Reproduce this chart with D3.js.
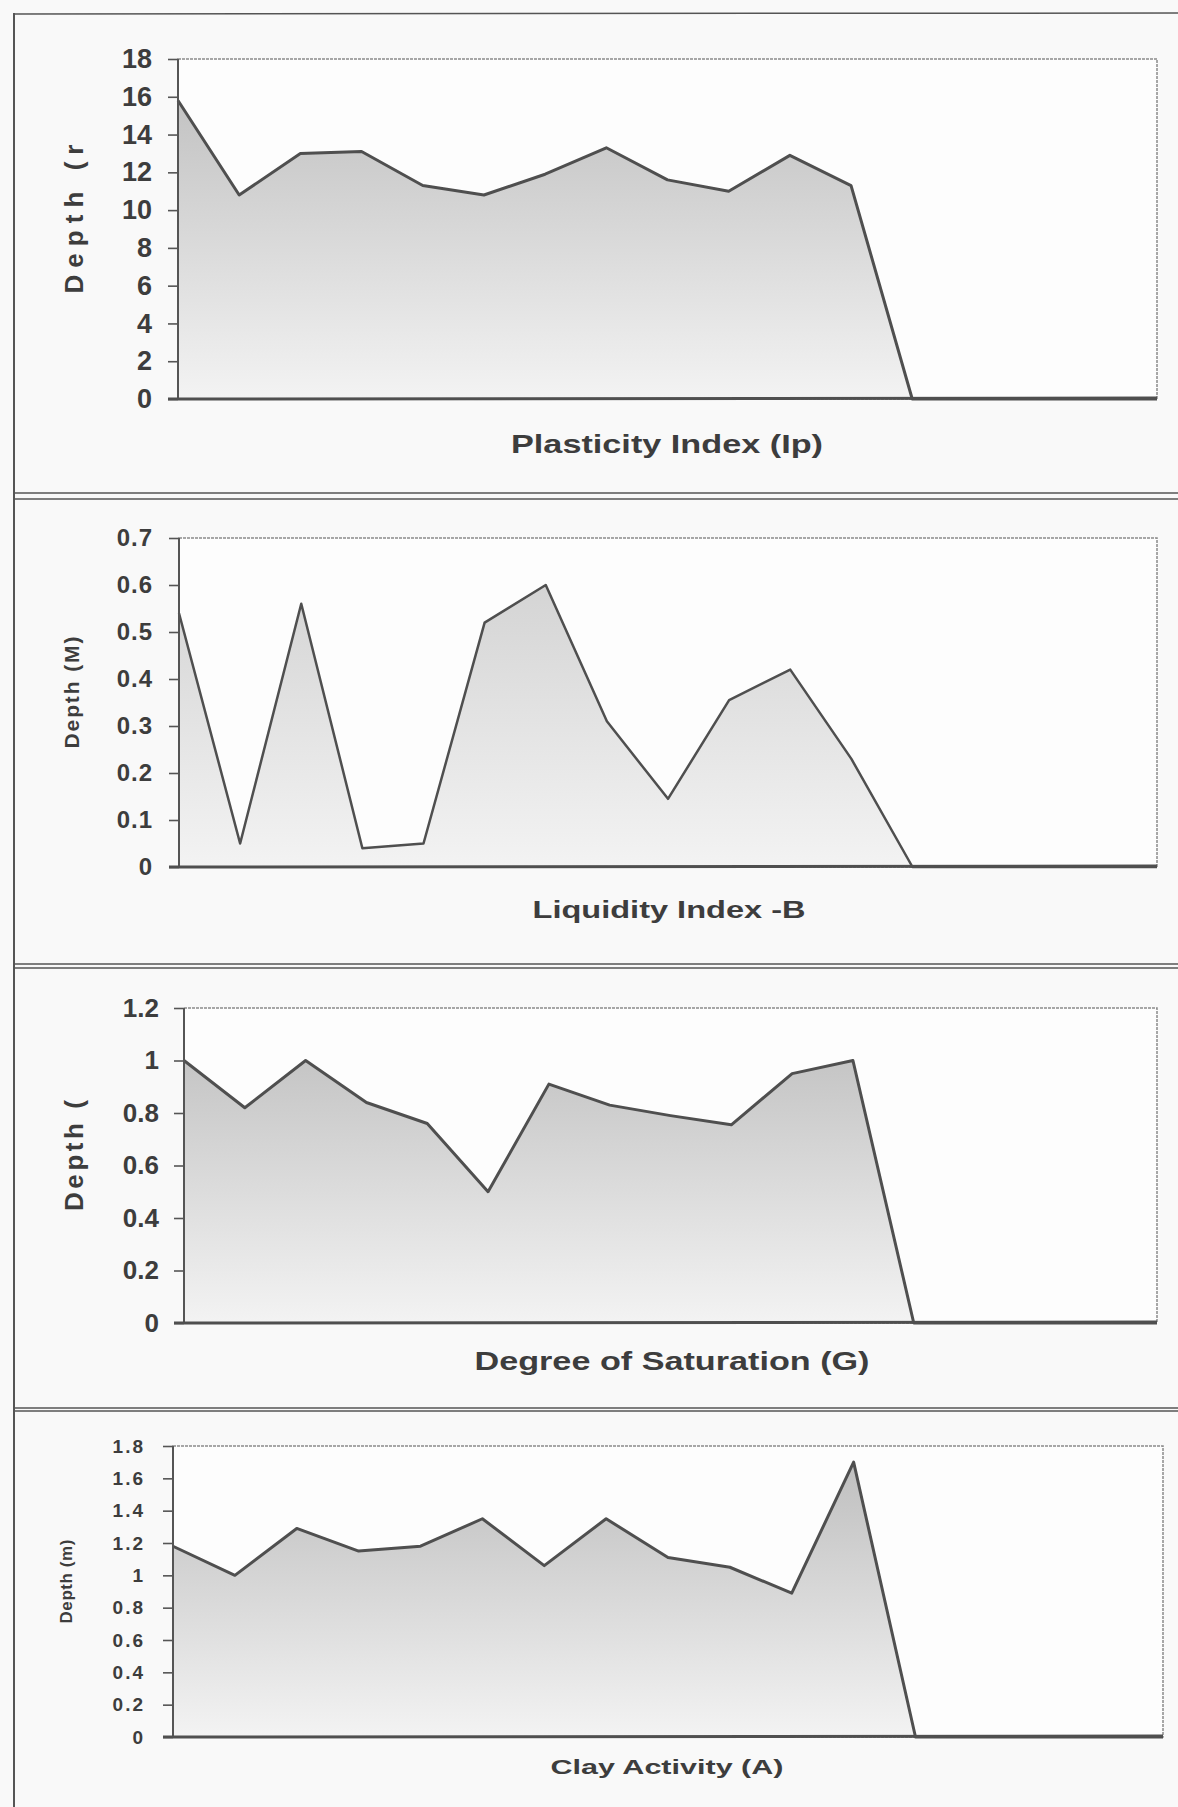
<!DOCTYPE html>
<html>
<head>
<meta charset="utf-8">
<script src="https://cdn.jsdelivr.net/npm/d3@7"></script>
<style>
  body { margin: 0; background: #fafafa; }
  svg { display: block; }
</style>
</head>
<body>
<div id="chart"></div>
<script>
// sample positions along the profile (17 categories, last ones empty)
const samples = [1, 2, 3, 4, 5, 6, 7, 8, 9, 10, 11, 12, 13, 14, 15, 16, 17];

// values
const plasticityIp = [15.8, 10.8, 13.0, 13.1, 11.3, 10.8, 11.9, 13.3, 11.6, 11.0, 12.9, 11.3, 0, 0, 0, 0, 0];
const liquidityB = [0.54, 0.05, 0.56, 0.04, 0.05, 0.52, 0.60, 0.31, 0.145, 0.355, 0.42, 0.23, 0, 0, 0, 0, 0];
const saturationG = [1.0, 0.82, 1.0, 0.84, 0.76, 0.50, 0.91, 0.83, 0.79, 0.755, 0.95, 1.0, 0, 0, 0, 0, 0];
const clayActivity = [1.18, 1.0, 1.29, 1.15, 1.18, 1.35, 1.06, 1.35, 1.11, 1.05, 0.89, 1.70, 0, 0, 0, 0, 0];

// tick labels
const ticksIp = [0, 2, 4, 6, 8, 10, 12, 14, 16, 18];
const ticksB = [0, 0.1, 0.2, 0.3, 0.4, 0.5, 0.6, 0.7];
const ticksG = [0, 0.2, 0.4, 0.6, 0.8, 1, 1.2];
const ticksA = [0, 0.2, 0.4, 0.6, 0.8, 1, 1.2, 1.4, 1.6, 1.8];

const width = 1178,
      height = 1807;

// one entry per stacked chart (layout only, data comes from the arrays above)
const panels = [
  { values: plasticityIp, ticks: ticksIp, max: 18,
    left: 178, right: 1157, top: 59, bottom: 399,
    tickFont: 27, tickWeight: "bold", tickSpacing: 0, tickPad: 16,
    yLabel: "Depth (r", yLabelX: 74, yLabelLen: 149, yLabelFont: 26,
    xLabel: "Plasticity Index (Ip)", xLabelY: 453, xLabelLen: 312, xLabelFont: 25, xLabelX: 667,
    stroke: 3 },
  { values: liquidityB, ticks: ticksB, max: 0.7,
    left: 179, right: 1157, top: 538, bottom: 867,
    tickFont: 24, tickWeight: "bold", tickSpacing: 1, tickPad: 16,
    yLabel: "Depth (M)", yLabelX: 72, yLabelLen: 112, yLabelFont: 21,
    xLabel: "Liquidity Index -B", xLabelY: 918, xLabelLen: 273, xLabelFont: 23, xLabelX: 669,
    stroke: 2.5 },
  { values: saturationG, ticks: ticksG, max: 1.2,
    left: 184, right: 1157, top: 1008, bottom: 1323,
    tickFont: 26, tickWeight: "bold", tickSpacing: 0, tickPad: 15,
    yLabel: "Depth (", yLabelX: 74, yLabelLen: 111, yLabelFont: 26,
    xLabel: "Degree of Saturation (G)", xLabelY: 1370, xLabelLen: 395, xLabelFont: 25, xLabelX: 672,
    stroke: 3 },
  { values: clayActivity, ticks: ticksA, max: 1.8,
    left: 173, right: 1163, top: 1446, bottom: 1737,
    tickFont: 19, tickWeight: "bold", tickSpacing: 2, tickPad: 18,
    yLabel: "Depth (m)", yLabelX: 66, yLabelLen: 84, yLabelFont: 17,
    xLabel: "Clay Activity (A)", xLabelY: 1774, xLabelLen: 233, xLabelFont: 20, xLabelX: 667,
    stroke: 3 }
];

const svg = d3.select("#chart").append("svg")
    .attr("width", width)
    .attr("height", height)
    .style("font-family", "'Liberation Sans', Arial, sans-serif");

svg.append("rect")
    .attr("width", width)
    .attr("height", height)
    .attr("fill", "#f9f9f9");

// gradient for the filled areas
const defs = svg.append("defs");
panels.forEach((p, i) => {
  const g = defs.append("linearGradient")
      .attr("id", "fill" + i)
      .attr("gradientUnits", "userSpaceOnUse")
      .attr("x1", 0).attr("x2", 0)
      .attr("y1", p.top).attr("y2", p.bottom);
  g.append("stop").attr("offset", "0%").attr("stop-color", i === 1 ? "#cfcfcf" : "#bcbcbc");
  g.append("stop").attr("offset", "100%").attr("stop-color", "#f3f3f3");
});

// page frame (scanned boxes around each chart)
const frame = svg.append("g").attr("stroke", "#555").attr("fill", "none");
frame.append("line").attr("x1", 14).attr("x2", 14).attr("y1", 13).attr("y2", height).attr("stroke-width", 2);
frame.append("line").attr("x1", 14).attr("x2", width).attr("y1", 14).attr("y2", 13).attr("stroke-width", 1.5);
[[493, 499], [964, 968], [1408, 1411]].forEach(([a, b]) => {
  frame.append("line").attr("x1", 14).attr("x2", width).attr("y1", a).attr("y2", a).attr("stroke-width", 1.6);
  frame.append("line").attr("x1", 14).attr("x2", width).attr("y1", b).attr("y2", b).attr("stroke-width", 1.6);
});

const drawPanel = (p, i) => {
  const g = svg.append("g");

  const x = d3.scalePoint()
    .domain(samples)
    .range([p.left, p.right]);

  const y = d3.scaleLinear()
    .domain([0, p.max])
    .range([p.bottom, p.top]);

  // plot area
  g.append("rect")
      .attr("x", p.left).attr("y", p.top)
      .attr("width", p.right - p.left).attr("height", p.bottom - p.top)
      .attr("fill", "#fdfdfd")
      .attr("stroke", "#8a8a8a")
      .attr("stroke-width", 1.5)
      .attr("stroke-dasharray", "3,1");

  const area = d3.area()
    .x((d, j) => x(samples[j]))
    .y0(y(0))
    .y1(d => y(d));

  const line = d3.line()
    .x((d, j) => x(samples[j]))
    .y(d => y(d));

  g.append("path")
      .datum(p.values)
      .attr("d", area)
      .attr("fill", `url(#fill${i})`);

  g.append("path")
      .datum(p.values)
      .attr("d", line)
      .attr("fill", "none")
      .attr("stroke", "#4f4f4f")
      .attr("stroke-width", p.stroke)
      .attr("stroke-linejoin", "round");

  // y axis
  const yAxis = d3.axisLeft(y)
    .tickValues(p.ticks)
    .tickSize(10)
    .tickPadding(p.tickPad)
    .tickFormat(d3.format("~g"));

  const ax = g.append("g")
      .attr("transform", `translate(${p.left},0)`)
      .call(yAxis);
  ax.select(".domain").remove();
  ax.selectAll(".tick line").attr("stroke", "#555").attr("stroke-width", 1.6);
  ax.selectAll(".tick text")
      .attr("fill", "#3d3d3d")
      .style("font-size", p.tickFont + "px")
      .style("font-weight", p.tickWeight)
      .style("letter-spacing", p.tickSpacing + "px");

  // axis lines
  g.append("line")
      .attr("x1", p.left).attr("x2", p.left)
      .attr("y1", p.top).attr("y2", p.bottom)
      .attr("stroke", "#555").attr("stroke-width", 2);
  g.append("line")
      .attr("x1", p.left - 10).attr("x2", p.right)
      .attr("y1", p.bottom).attr("y2", p.bottom - 1)
      .attr("stroke", "#4f4f4f").attr("stroke-width", 3);

  // titles
  g.append("text")
      .attr("transform", `translate(${p.yLabelX},${(p.top + p.bottom) / 2 - 10}) rotate(-90)`)
      .attr("text-anchor", "middle")
      .attr("dy", "0.35em")
      .attr("fill", "#3d3d3d")
      .attr("textLength", p.yLabelLen)
      .attr("lengthAdjust", "spacing")
      .style("font-size", p.yLabelFont + "px")
      .style("font-weight", "bold")
      .text(p.yLabel);

  g.append("text")
      .attr("x", p.xLabelX)
      .attr("y", p.xLabelY)
      .attr("text-anchor", "middle")
      .attr("fill", "#3d3d3d")
      .attr("textLength", p.xLabelLen)
      .attr("lengthAdjust", "spacingAndGlyphs")
      .style("font-size", p.xLabelFont + "px")
      .style("font-weight", "bold")
      .text(p.xLabel);
};

panels.forEach(drawPanel);
</script>
</body>
</html>
